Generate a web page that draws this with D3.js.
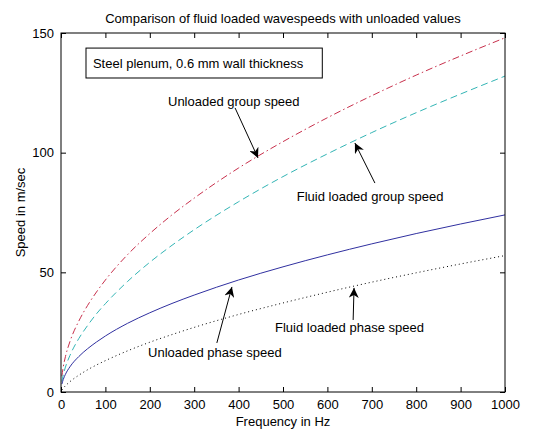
<!DOCTYPE html>
<html><head><meta charset="utf-8">
<script src="https://cdn.jsdelivr.net/npm/d3@7"></script>
<style>body{margin:0;background:#fff}svg{display:block}text{font-family:"Liberation Sans",Arial,sans-serif;fill:#000}</style>
</head><body><svg id="c" width="533" height="430"></svg>
<script>
const freq = [2,5,10,20,40,60,80,100,150,200,250,300,400,500,600,700,800,900,1000];
const unloadedGroup = [6.6,10.4,14.8,21,29.6,36.2,41.8,46.8,57.4,66.2,74,81,93.6,104.6,114.6,123.8,132.4,140.4,148];
const fluidGroup = [4.3,7.1,10.4,15.2,22.3,27.8,32.7,36.9,46.2,54.2,61.3,67.8,79.5,90,99.5,108.4,116.7,124.5,132];
const unloadedPhase = [3.3,5.2,7.4,10.5,14.8,18.1,20.9,23.4,28.7,33.1,37,40.5,46.8,52.3,57.3,61.9,66.2,70.2,74];
const fluidPhase = [0.8,1.6,2.6,4.3,7.0,9.3,11.3,13.1,17.2,20.8,24,27,32.4,37.2,41.7,45.9,49.8,53.5,57];
const xTicks = [0,100,200,300,400,500,600,700,800,900,1000];
const yTicks = [0,50,100,150];
const titleText = "Comparison of fluid loaded wavespeeds with unloaded values";
const xLabel = "Frequency in Hz", yLabel = "Speed in m/sec";
const boxText = "Steel plenum, 0.6 mm wall thickness";
// annotations (data coordinates): text anchor, arrow tail, arrow tip
const notes = [
  {t:"Unloaded group speed", tx:[241,119.5], from:[392,118.7], to:[443.7,97.8]},
  {t:"Fluid loaded group speed", tx:[531,79.8], from:[707,87.3], to:[662,104]},
  {t:"Unloaded phase speed", tx:[196,14.6], from:[351,20.5], to:[385,43.9]},
  {t:"Fluid loaded phase speed", tx:[482,25.1], from:[658,30.1], to:[660,43.5]}
];

const FS = 13;
const svg = d3.select("#c");
const L=61,R=505,T=33,B=392;
const x = d3.scaleLinear().domain([0,1000]).range([L,R]);
const y = d3.scaleLinear().domain([0,150]).range([B,T]);

const gx = svg.append("g").attr("transform",`translate(0,${B})`)
  .call(d3.axisBottom(x).tickValues(xTicks).tickFormat(d3.format("d")).tickSizeInner(-5).tickSizeOuter(0).tickPadding(8));
const gxt = svg.append("g").attr("transform",`translate(0,${T})`)
  .call(d3.axisTop(x).tickValues(xTicks).tickSizeInner(-5).tickSizeOuter(0).tickFormat(""));
const gy = svg.append("g").attr("transform",`translate(${L},0)`)
  .call(d3.axisLeft(y).tickValues(yTicks).tickFormat(d3.format("d")).tickSizeInner(-5).tickSizeOuter(0).tickPadding(7));
const gyr = svg.append("g").attr("transform",`translate(${R},0)`)
  .call(d3.axisRight(y).tickValues(yTicks).tickSizeInner(-5).tickSizeOuter(0).tickFormat(""));
[gx,gxt,gy,gyr].forEach(g=>{g.selectAll("path").remove();g.selectAll("line").attr("stroke","#000");g.selectAll("text").attr("font-size",FS).attr("font-family","Liberation Sans, Arial, sans-serif").attr("fill","#000");});

const line = (arr)=>d3.line().x((d,i)=>x(freq[i])).y(d=>y(d)).curve(d3.curveMonotoneX)(arr);
svg.append("path").attr("d",line(unloadedGroup)).attr("fill","none").attr("stroke","#c8304c").attr("stroke-dasharray","7,3,1.5,3");
svg.append("path").attr("d",line(fluidGroup)).attr("fill","none").attr("stroke","#33b5b5").attr("stroke-dasharray","7,4");
svg.append("path").attr("d",line(unloadedPhase)).attr("fill","none").attr("stroke","#3030a0");
svg.append("path").attr("d",line(fluidPhase)).attr("fill","none").attr("stroke","#000").attr("stroke-dasharray","1,3");

svg.append("rect").attr("x",L).attr("y",T).attr("width",R-L).attr("height",B-T).attr("fill","none").attr("stroke","#000").attr("stroke-width",1);

svg.append("text").attr("x",(L+R)/2).attr("y",23).attr("text-anchor","middle").attr("font-size",FS).text(titleText);
svg.append("text").attr("x",(L+R)/2).attr("y",426).attr("text-anchor","middle").attr("font-size",FS).text(xLabel);
svg.append("text").attr("transform",`translate(25,${(T+B)/2}) rotate(-90)`).attr("text-anchor","middle").attr("font-size",FS).text(yLabel);

// box
svg.append("text").attr("x",x(72)).attr("y",y(135.2)).attr("font-size",FS).text(boxText);
svg.append("rect").attr("x",x(56.3)).attr("y",y(143.7)).attr("width",x(588.5)-x(56.3)).attr("height",y(131.2)-y(143.7)).attr("fill","none").attr("stroke","#000");

const defs = svg.append("defs");
defs.append("marker").attr("id","ah").attr("viewBox","0 0 10 10").attr("refX",10).attr("refY",5)
  .attr("markerWidth",10).attr("markerHeight",10).attr("markerUnits","userSpaceOnUse").attr("orient","auto")
  .append("path").attr("d","M0,0 L10,5 L0,10 L3,5 Z").attr("fill","#000");
notes.forEach(n=>{
  svg.append("text").attr("x",x(n.tx[0])).attr("y",y(n.tx[1])).attr("font-size",FS).text(n.t);
  svg.append("line").attr("x1",x(n.from[0])).attr("y1",y(n.from[1])).attr("x2",x(n.to[0])).attr("y2",y(n.to[1]))
    .attr("stroke","#000").attr("marker-end","url(#ah)");
});
</script></body></html>
